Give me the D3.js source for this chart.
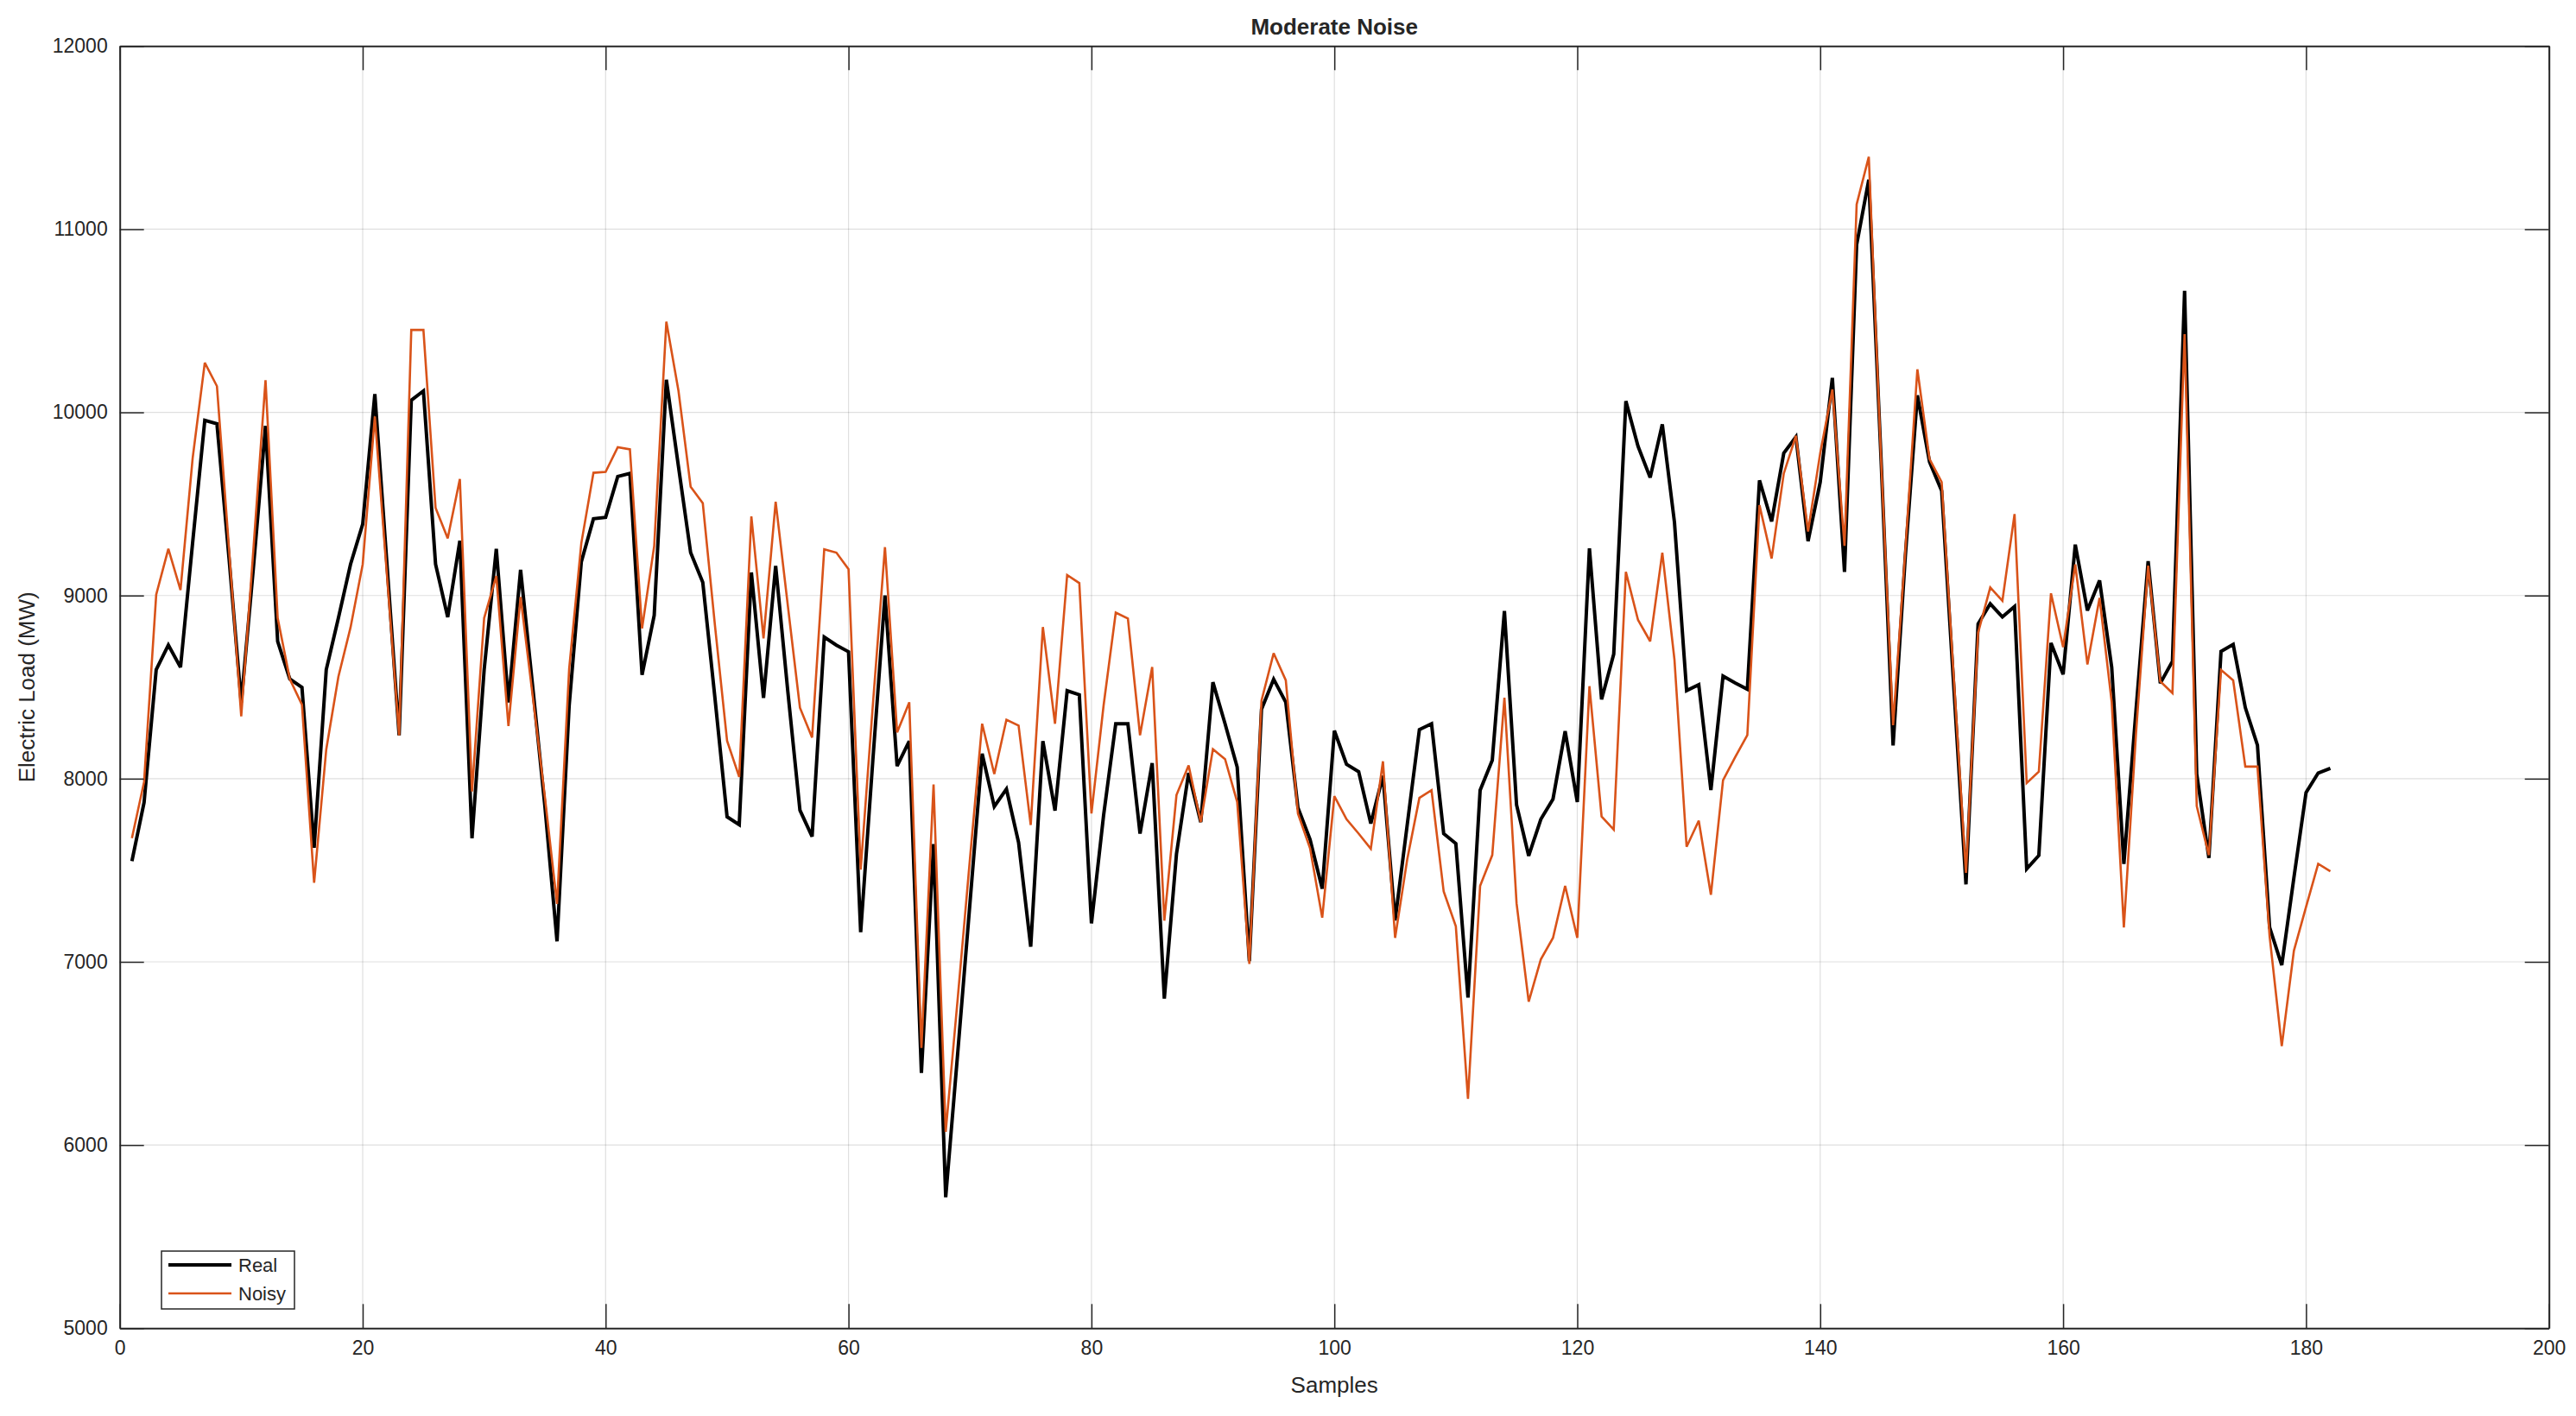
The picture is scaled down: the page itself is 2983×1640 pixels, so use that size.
<!DOCTYPE html>
<html lang="en">
<head>
    <meta charset="UTF-8">
    <title>Moderate Noise</title>
    <script src="https://cdn.jsdelivr.net/npm/d3@7"></script>
    <style>
        body {
          margin: 0;
          background: #fff;
        }
        text {
          font-family: "Liberation Sans", Arial, Helvetica, sans-serif;
          fill: #262626;
        }
    </style>
</head>
<body>
    <script>
        // values, sample 1..182
        let real = [
          7550, 7870, 8595, 8730, 8608, 9290, 9956, 9938, 9200, 8416,
          9150, 9926, 8749, 8544, 8498, 7623, 8595, 8877, 9171, 9389,
          10100, 9170, 8237, 10066, 10117, 9171, 8882, 9299, 7675, 8595,
          9255, 8416, 9140, 8500, 7850, 7112, 8400, 9184, 9419, 9427,
          9650, 9667, 8567, 8892, 10178, 9703, 9234, 9072, 8441, 7792,
          7749, 9126, 8441, 9162, 8477, 7828, 7684, 8773, 8729, 8693,
          7162, 8100, 9000, 8069, 8205, 6394, 7643, 5715, 6511, 7323,
          8136, 7848, 7943, 7652, 7083, 8205, 7826, 8480, 8458, 7210,
          7800, 8300, 8300, 7700, 8085, 6799, 7589, 8031, 7763, 8527,
          8300, 8063, 7004, 8379, 8543, 8417, 7842, 7668, 7399, 8262,
          8079, 8038, 7755, 8016, 7226, 7750, 8268, 8300, 7700, 7646,
          6805, 7937, 8101, 8916, 7857, 7579, 7779, 7889, 8259, 7873,
          9257, 8433, 8680, 10061, 9815, 9644, 9935, 9400, 8481, 8513,
          7938, 8560, 8523, 8488, 9629, 9404, 9777, 9866, 9297, 9619,
          10188, 9129, 10915, 11270, 9760, 8181, 9208, 10093, 9730, 9572,
          8500, 7423, 8845, 8955, 8883, 8940, 7508, 7581, 8741, 8570,
          9278, 8918, 9082, 8608, 7535, 8373, 9188, 8521, 8641, 10664,
          8025, 7567, 8695, 8733, 8388, 8183, 7188, 6982, 7460, 7924,
          8031, 8057
        ];

        let noisy = [
          7675, 7982, 9005, 9255, 9030, 9750, 10271, 10143, 9250, 8340,
          9250, 10176, 8877, 8544, 8404, 7432, 8160, 8557, 8826, 9170,
          9977, 9110, 8237, 10450, 10450, 9478, 9312, 9636, 7930, 8877,
          9107, 8288, 8992, 8450, 7900, 7316, 8600, 9286, 9670, 9675,
          9810, 9798, 8820, 9270, 10495, 10117, 9594, 9504, 8838, 8207,
          8009, 9432, 8766, 9512, 8946, 8387, 8225, 9252, 9234, 9144,
          7504, 8400, 9264, 8253, 8417, 6530, 7968, 6072, 6808, 7564,
          8300, 8025, 8322, 8290, 7747, 8828, 8300, 9112, 9068, 7810,
          8400, 8907, 8875, 8237, 8610, 7225, 7911, 8072, 7763, 8161,
          8107, 7873, 6989, 8426, 8685, 8537, 7810, 7620, 7241, 7905,
          7779, 7700, 7617, 8095, 7131, 7560, 7895, 7937, 7384, 7194,
          6252, 7415, 7583, 8442, 7320, 6783, 7014, 7131, 7415, 7131,
          8505, 7794, 7722, 9129, 8867, 8750, 9234, 8650, 7628, 7771,
          7366, 7992, 8118, 8238, 9493, 9202, 9666, 9872, 9350, 9777,
          10125, 9271, 11136, 11395, 9760, 8292, 9240, 10235, 9745, 9619,
          8550, 7486, 8797, 9044, 8971, 9445, 7976, 8039, 9012, 8718,
          9170, 8624, 8987, 8418, 7188, 8246, 9163, 8531, 8467, 10427,
          7851, 7583, 8594, 8537, 8066, 8066, 7140, 6540, 7061, 7300,
          7535, 7494
        ];

        let xTicks = [0, 20, 40, 60, 80, 100, 120, 140, 160, 180, 200];
        let yTicks = [5000, 6000, 7000, 8000, 9000, 10000, 11000, 12000];

        let w = 2983;
        let h = 1640;
        let pl = 138.7, pr = 2951.7, pt = 53.3, pb = 1538.3;
        let tickLen = 28;

        let x = d3.scaleLinear().domain([0, 200]).range([pl, pr]);
        let y = d3.scaleLinear().domain([5000, 12000]).range([pb, pt]);

        let svg = d3.select('body')
                    .append('svg')
                    .attr('width', w)
                    .attr('height', h)

        svg.append('rect')
           .attr('width', w)
           .attr('height', h)
           .attr('fill', '#fff')

        // grid
        let grid = svg.append('g')
                      .attr('stroke', '#262626')
                      .attr('stroke-opacity', 0.15)
                      .attr('stroke-width', 1.2)

        grid.selectAll('.gx')
            .data(xTicks.slice(1, -1))
            .enter()
            .append('line')
            .attr('x1', d => x(d)).attr('x2', d => x(d))
            .attr('y1', pt).attr('y2', pb)

        grid.selectAll('.gy')
            .data(yTicks.slice(1, -1))
            .enter()
            .append('line')
            .attr('x1', pl).attr('x2', pr)
            .attr('y1', d => y(d)).attr('y2', d => y(d))

        // series
        let line = d3.line()
                     .x((d, i) => x(i + 1))
                     .y(d => y(d));

        svg.append('path')
           .datum(real)
           .attr('d', line)
           .attr('fill', 'none')
           .attr('stroke', '#000')
           .attr('stroke-width', 4)
           .attr('stroke-linejoin', 'miter')
           .attr('stroke-miterlimit', 3)

        svg.append('path')
           .datum(noisy)
           .attr('d', line)
           .attr('fill', 'none')
           .attr('stroke', '#D95319')
           .attr('stroke-width', 2.6)
           .attr('stroke-linejoin', 'miter')
           .attr('stroke-miterlimit', 3)

        // axes (box with inward ticks on all sides)
        let axisG = svg.append('g');

        axisG.append('g')
             .attr('transform', 'translate(0,' + pb + ')')
             .call(d3.axisBottom(x).tickValues(xTicks).tickSizeInner(-tickLen).tickSizeOuter(0).tickPadding(14))
        axisG.append('g')
             .attr('transform', 'translate(0,' + pt + ')')
             .call(d3.axisTop(x).tickValues(xTicks).tickSizeInner(-tickLen).tickSizeOuter(0).tickFormat(''))
        axisG.append('g')
             .attr('transform', 'translate(' + pl + ',0)')
             .call(d3.axisLeft(y).tickValues(yTicks).tickSizeInner(-tickLen).tickSizeOuter(0).tickPadding(14).tickFormat(d3.format('d')))
        axisG.append('g')
             .attr('transform', 'translate(' + pr + ',0)')
             .call(d3.axisRight(y).tickValues(yTicks).tickSizeInner(-tickLen).tickSizeOuter(0).tickFormat(''))

        axisG.selectAll('.domain')
             .attr('stroke', '#262626')
             .attr('stroke-width', 2)
        axisG.selectAll('.tick line')
             .attr('stroke', '#262626')
             .attr('stroke-width', 1.5)
        axisG.selectAll('.tick text')
             .style('font-family', '"Liberation Sans", Arial, sans-serif')
             .style('font-size', '23px')
             .attr('fill', '#262626')

        // titles
        svg.append('text')
           .attr('x', (pl + pr) / 2)
           .attr('y', 40)
           .attr('text-anchor', 'middle')
           .style('font-size', '26px')
           .style('font-weight', 'bold')
           .text('Moderate Noise')

        svg.append('text')
           .attr('x', (pl + pr) / 2)
           .attr('y', 1613)
           .attr('text-anchor', 'middle')
           .style('font-size', '26px')
           .text('Samples')

        svg.append('text')
           .attr('transform', 'translate(40,' + (pt + pb) / 2 + ') rotate(-90)')
           .attr('text-anchor', 'middle')
           .style('font-size', '26px')
           .text('Electric Load (MW)')

        // legend
        let legend = svg.append('g').attr('transform', 'translate(187,1449)')
        legend.append('rect')
              .attr('width', 154)
              .attr('height', 67)
              .attr('fill', '#fff')
              .attr('stroke', '#262626')
              .attr('stroke-width', 1.5)

        let items = [
          {name: 'Real', color: '#000', width: 4},
          {name: 'Noisy', color: '#D95319', width: 2.6}
        ];

        let row = legend.selectAll('.item')
                        .data(items)
                        .enter()
                        .append('g')
                        .attr('transform', (d, i) => 'translate(0,' + (16 + i * 33) + ')')

        row.append('line')
           .attr('x1', 8).attr('x2', 81)
           .attr('stroke', d => d.color)
           .attr('stroke-width', d => d.width)

        row.append('text')
           .attr('x', 89)
           .attr('dy', '0.36em')
           .style('font-size', '22px')
           .text(d => d.name)
    </script>
</body>
</html>
